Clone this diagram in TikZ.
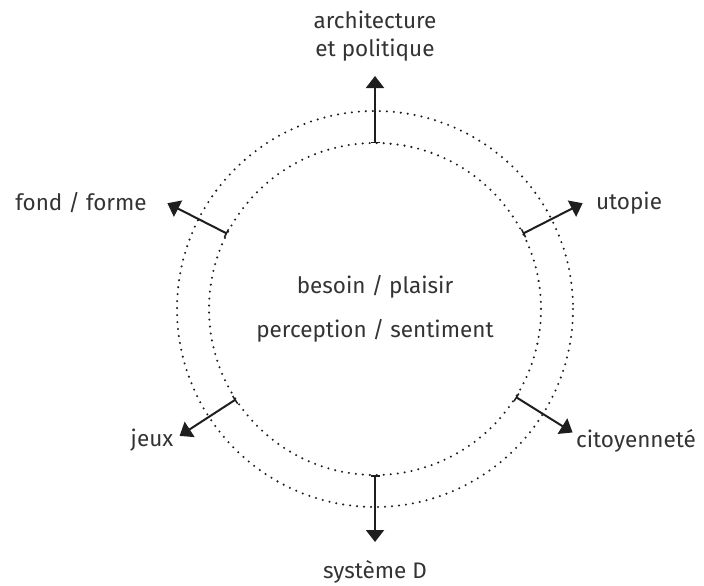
\documentclass[tikz,border=0pt]{standalone}
\usepackage{fontspec}
\setmainfont{Fira Sans}
\usetikzlibrary{arrows.meta,calc}
\definecolor{ink}{HTML}{1E1E1E}
\definecolor{txt}{HTML}{333333}
\tikzset{
  dotring/.style={draw=ink, line width=2.3pt, line cap=round, dash pattern=on 0pt off 7pt},
  spoke/.style={draw=ink, line width=2pt, {Bar[width=9pt,line width=1.5pt]}-{Triangle[length=12pt,width=18pt]}},
  lbl/.style={text=txt, font=\fontsize{22.5}{26}\selectfont, inner sep=0pt}
}
\begin{document}
\begin{tikzpicture}[x=1pt,y=-1pt]
\useasboundingbox (0,0) rectangle (704,586);
\coordinate (c) at (375,309);
\draw[dotring] (c) circle[radius=166];
\draw[dotring] (c) circle[radius=198];

% six spokes leave the inner ring at these angles (y axis points down)
\foreach \n/\a in {top/90, ur/27, lr/-32, bot/-90, ll/213, ul/153}{
  \coordinate (s\n) at ($(c)+(-\a:166)$);
  \coordinate (e\n) at ($(c)+(-\a:233)$);
  \draw[spoke] (s\n) -- (e\n);
}

% labels
\node[lbl] (arch1) at (375,20) {architecture};
\node[lbl] (arch2) at (375,50) {et politique};
\node[lbl] (fond) at (81,203) {fond / forme};
\node[lbl] (utop) at (629,203) {utopie};
\node[lbl] (jeux) at (152,440) {jeux};
\node[lbl] (cito) at (636,441) {citoyenneté};
\node[lbl] (sysd) at (375,572) {système D};
\node[lbl] (bes) at (375,287) {besoin / plaisir};
\node[lbl] (perc) at (375,331) {perception / sentiment};
\end{tikzpicture}
\end{document}
